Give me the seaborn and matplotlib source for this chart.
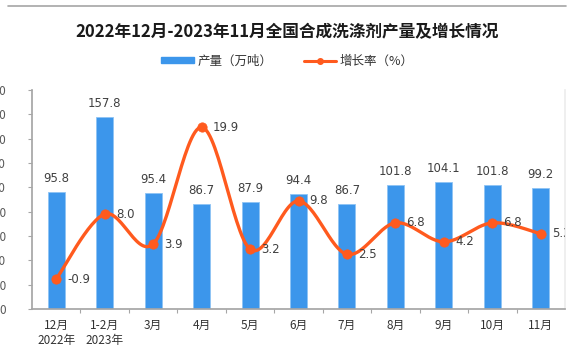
import numpy as np
import pandas as pd
import matplotlib
matplotlib.use("Agg")
import matplotlib.pyplot as plt
from matplotlib.patches import Patch
from matplotlib.lines import Line2D
from matplotlib.ticker import MultipleLocator, FixedLocator
import seaborn as sns

# ---- data ----
months = ["12月\n2022年", "1-2月\n2023年", "3月", "4月", "5月", "6月", "7月", "8月", "9月", "10月", "11月"]
output = [95.8, 157.8, 95.4, 86.7, 87.9, 94.4, 86.7, 101.8, 104.1, 101.8, 99.2]
growth = [-0.9, 8.0, 3.9, 19.9, 3.2, 9.8, 2.5, 6.8, 4.2, 6.8, 5.3]
title = "2022年12月-2023年11月全国合成洗涤剂产量及增长情况"
bar_name = "产量（万吨）"
line_name = "增长率（%）"

sns.set_theme(style="white")
plt.rcParams["font.family"] = ["Noto Sans CJK SC", "DejaVu Sans"]

BAR_C = "#3C96EB"
LINE_C = "#FF5A1E"
TXT_C = "#404040"

W, H = 575, 355
fig = plt.figure(figsize=(W / 100, H / 100), dpi=100)
left, right, top, bottom = 32, 565, 90, 309
ax = fig.add_axes([left / W, 1 - bottom / H, (right - left) / W, (bottom - top) / H])

df = pd.DataFrame({"month": months, "output": output, "growth": growth})
sns.barplot(data=df, x="month", y="output", color=BAR_C, width=0.35, ax=ax,
            saturation=1, edgecolor="#8EC3F5", linewidth=0.6)
ax.set_xlim(-0.5, len(months) - 0.5)
ax.set_ylim(0, 180)
ax.yaxis.set_major_locator(MultipleLocator(20))
ax.set_xlabel("")
ax.set_ylabel("")
for c in ax.containers:
    ax.bar_label(c, fmt="%.1f", padding=5, fontsize=8.5, color=TXT_C,
                 family=["DejaVu Sans"])

ax.spines["top"].set_visible(False)
ax.spines["left"].set_color("#A6A6A6")
ax.spines["bottom"].set_color("#A6A6A6")
ax.spines["right"].set_color("#EDEDED")
ax.tick_params(axis="x", which="major", length=0, pad=7, labelsize=8.5, labelcolor="#333333")
ax.xaxis.set_minor_locator(FixedLocator(np.arange(0.5, len(months) - 0.5, 1)))
ax.tick_params(axis="x", which="minor", bottom=True, length=3, color="#A6A6A6", width=0.8)
ax.tick_params(axis="y", which="major", left=True, length=3, color="#A6A6A6", width=0.8,
               pad=15.5, labelsize=8.5, labelcolor="#595959")

# secondary axis for growth line
ax2 = ax.twinx()
ax2.set_ylim(-5, 25)
ax2.set_yticks([])
for s in ax2.spines.values():
    s.set_visible(False)

# smooth (Catmull-Rom / Bezier) rendering of the line through the data points
xs = np.arange(len(growth), dtype=float)
ys = np.array(growth, dtype=float)
px = np.concatenate([[xs[0]], xs, [xs[-1]]])
py = np.concatenate([[ys[0]], ys, [ys[-1]]])
cx, cy = [], []
t = np.linspace(0, 1, 30)
for i in range(len(xs) - 1):
    p0x, p1x, p2x, p3x = px[i], px[i + 1], px[i + 2], px[i + 3]
    p0y, p1y, p2y, p3y = py[i], py[i + 1], py[i + 2], py[i + 3]
    b1x, b1y = p1x + (p2x - p0x) / 6, p1y + (p2y - p0y) / 6
    b2x, b2y = p2x - (p3x - p1x) / 6, p2y - (p3y - p1y) / 6
    bx = (1 - t) ** 3 * p1x + 3 * (1 - t) ** 2 * t * b1x + 3 * (1 - t) * t ** 2 * b2x + t ** 3 * p2x
    by = (1 - t) ** 3 * p1y + 3 * (1 - t) ** 2 * t * b1y + 3 * (1 - t) * t ** 2 * b2y + t ** 3 * p2y
    cx.extend(bx)
    cy.extend(by)
ax2.plot(cx, cy, color=LINE_C, lw=2.4, solid_capstyle="round", zorder=3)
sns.scatterplot(x=xs, y=ys, color=LINE_C, s=45, edgecolor=LINE_C, ax=ax2, zorder=4, legend=False)
for xi, yi in zip(xs, ys):
    ax2.annotate(f"{yi:.1f}", (xi, yi), xytext=(8, 0), textcoords="offset points",
                 ha="left", va="center", fontsize=8.5, color=TXT_C,
                 family=["DejaVu Sans"], annotation_clip=False, clip_on=True)

# title and legend
fig.text(0.5, 1 - 32 / H, title, ha="center", va="center", fontsize=12,
         fontweight="bold", color="#1A1A1A")
handles = [Patch(facecolor=BAR_C, edgecolor=BAR_C),
           Line2D([0], [0], color=LINE_C, lw=2.2, marker="o", markersize=4)]
fig.legend(handles, [bar_name, line_name], loc="center", bbox_to_anchor=(0.5, 1 - 61 / H),
           ncol=2, frameon=False, fontsize=9, handlelength=2.6, handleheight=0.45,
           columnspacing=2.5, handletextpad=0.3, labelcolor="#333333")

# top border line
fig.add_artist(Line2D([8 / W, 566 / W], [1 - 6 / H, 1 - 6 / H], color="#A6A6A6", lw=1.2))

fig.savefig("out.png", dpi=100)
